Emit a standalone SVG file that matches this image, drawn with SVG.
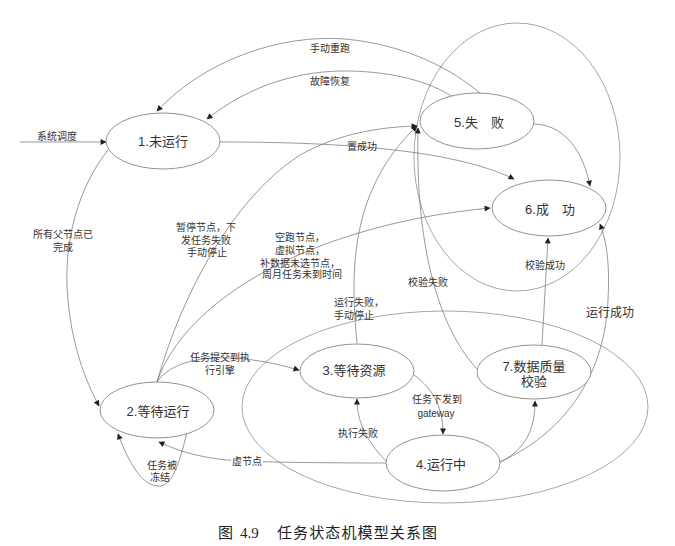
<svg xmlns="http://www.w3.org/2000/svg" width="675" height="546" viewBox="0 0 675 546">
<defs>
<marker id="arr" viewBox="0 0 10 10" refX="9" refY="5" markerWidth="8" markerHeight="6" markerUnits="userSpaceOnUse" orient="auto">
<path d="M0,0 L10,5 L0,10 z" fill="#222"/>
</marker>
<style>
.node ellipse{fill:#fff;stroke:#777;stroke-width:0.8}
.node text{font-family:"Liberation Sans","Noto Sans CJK SC",sans-serif;font-size:13px;fill:#333;text-anchor:middle}
.edge{fill:none;stroke:#777;stroke-width:0.75}
.arr{marker-end:url(#arr)}
.big{fill:none;stroke:#888;stroke-width:0.75}
.lbl{font-family:"Liberation Sans","Noto Sans CJK SC",sans-serif;font-size:10px;fill:#333;text-anchor:middle}
.cap{font-family:"Liberation Serif","Noto Sans CJK SC",serif;font-size:15px;fill:#222}
</style>
</defs>
<rect width="675" height="546" fill="#fff"/>

<g id="loops">
<ellipse class="big" cx="517" cy="157" rx="103" ry="134"/>
<ellipse class="big" cx="445" cy="407" rx="203" ry="96"/>
</g>

<g id="connectors">
<path class="edge arr" d="M20,142 L106,142"/>
<path class="edge arr" d="M480,93 C455,72 410,45 345,39 C280,34 205,60 157,111"/>
<path class="edge arr" d="M453,97 C430,82 395,72 350,71 C300,70 250,85 207,119"/>
<path class="edge arr" d="M220,142 C330,142 450,148 514,179"/>
<path class="edge arr" d="M108,150 C80,185 62,240 68,300 C72,345 85,380 99,406"/>
<path class="edge arr" d="M187,432 C178,470 170,488 157,486 C140,484 128,460 118,434"/>
<path class="edge arr" d="M386,463 C320,463 260,462 240,461 C205,459 180,452 159,442"/>
<path class="edge arr" d="M157,382 C180,300 230,200 300,155 C340,133 380,127 417,126"/>
<path class="edge arr" d="M157,382 C185,300 310,225 490,208"/>
<path class="edge arr" d="M157,382 C175,355 230,350 299,370"/>
<path class="edge arr" d="M357,343 C350,270 350,190 417,126"/>
<path class="edge arr" d="M478,370 C440,330 415,250 418,128"/>
<path class="edge arr" d="M534,124 C570,125 585,160 590,186"/>
<path class="edge arr" d="M542,345 L548,238"/>
<path class="edge arr" d="M500,462 C570,430 605,370 608,300 C610,260 606,240 600,224"/>
<path class="edge arr" d="M500,462 C525,450 535,430 535,401"/>
<path class="edge arr" d="M414,375 C435,390 443,410 443,434"/>
<path class="edge arr" d="M387,462 C365,440 357,420 357,399"/>
</g>

<g id="labels">
<text class="lbl" x="57" y="140">系统调度</text>
<text class="lbl" x="330" y="52">手动重跑</text>
<text class="lbl" x="330" y="85">故障恢复</text>
<text class="lbl" x="362" y="150">置成功</text>
<text class="lbl" x="63" y="238">所有父节点已</text>
<text class="lbl" x="63" y="251">完成</text>
<text class="lbl" x="206" y="231">暂停节点，下</text>
<text class="lbl" x="206" y="244">发任务失败</text>
<text class="lbl" x="207" y="256">手动停止</text>
<text class="lbl" x="300" y="241">空跑节点，</text>
<text class="lbl" x="300" y="254">虚拟节点，</text>
<text class="lbl" x="300" y="267">补数据未选节点，</text>
<text class="lbl" x="302" y="278">周月任务未到时间</text>
<text class="lbl" x="220" y="361">任务提交到执</text>
<text class="lbl" x="220" y="374">行引擎</text>
<text class="lbl" x="334" y="306" style="text-anchor:start">运行失败，</text>
<text class="lbl" x="334" y="319" style="text-anchor:start">手动停止</text>
<text class="lbl" x="428" y="286">校验失败</text>
<text class="lbl" x="545" y="269">校验成功</text>
<text class="lbl" x="610" y="317" style="font-size:12px">运行成功</text>
<text class="lbl" x="437" y="403">任务下发到</text>
<text class="lbl" x="436" y="417">gateway</text>
<text class="lbl" x="358" y="437">执行失败</text>
<rect x="231" y="455" width="32" height="12" fill="#fff"/>
<text class="lbl" x="247" y="465">虚节点</text>
<text class="lbl" x="162" y="469">任务被</text>
<text class="lbl" x="160" y="481">冻结</text>
</g>

<g id="n1" class="node"><ellipse cx="163" cy="141" rx="57" ry="28"/><text x="163" y="146">1.未运行</text></g>
<g id="n2" class="node"><ellipse cx="157" cy="410" rx="57" ry="28"/><text x="158" y="416">2.等待运行</text></g>
<g id="n3" class="node"><ellipse cx="357" cy="371" rx="57" ry="27"/><text x="354" y="375">3.等待资源</text></g>
<g id="n4" class="node"><ellipse cx="443" cy="463" rx="57" ry="28"/><text x="441" y="469">4.运行中</text></g>
<g id="n5" class="node"><ellipse cx="477" cy="121" rx="57" ry="28"/><text x="479" y="127">5.失　败</text></g>
<g id="n6" class="node"><ellipse cx="549" cy="208" rx="57" ry="28"/><text x="550" y="214">6.成　功</text></g>
<g id="n7" class="node"><ellipse cx="534" cy="372" rx="57" ry="27"/><text x="534" y="371">7.数据质量</text><text x="534" y="386">校验</text></g>

<g id="caption">
<text class="cap" x="218" y="538">图</text>
<text class="cap" x="240" y="538">4.9</text>
<text class="cap" x="277" y="538" textLength="160" lengthAdjust="spacing">任务状态机模型关系图</text>
</g>
</svg>
